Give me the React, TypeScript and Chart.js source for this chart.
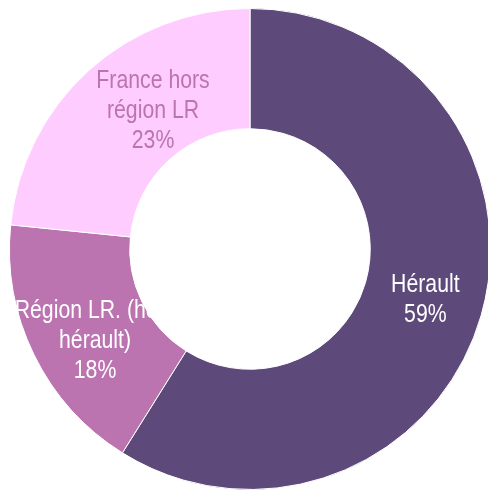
import React, { useEffect, useRef } from "react";
import { Chart, registerables } from "chart.js";

Chart.register(...registerables);

const categories = ["Hérault", "Région LR. (hors hérault)", "France hors région LR"];
const labelLines = [["Hérault"], ["Région LR. (hors", "hérault)"], ["France hors", "région LR"]];
const shares = [58.9, 17.7, 23.4];
const sliceColors = ["#5e4a7a", "#bb74b0", "#ffccff"];
const labelColors = ["#ffffff", "#ffffff", "#bb74b0"];
const labelNudges = [[2, 1], [7, 13], [24, -4]];

const labelPlugin = {
  id: "sliceLabels",
  afterDatasetsDraw(chart: any) {
    const ctx = chart.ctx;
    const meta = chart.getDatasetMeta(0);
    const total = shares.reduce((a, b) => a + b, 0);
    ctx.save();
    ctx.font = '25px "Liberation Sans", Arial, sans-serif';
    ctx.textAlign = "center";
    ctx.textBaseline = "middle";
    meta.data.forEach((arc: any, i: number) => {
      const p = arc.tooltipPosition();
      const pct = Math.round((shares[i] / total) * 100) + "%";
      const lines = [...labelLines[i], pct];
      const lh = 30;
      const cx = p.x + labelNudges[i][0];
      const cy = p.y + labelNudges[i][1];
      const startY = cy - ((lines.length - 1) * lh) / 2;
      ctx.fillStyle = labelColors[i];
      lines.forEach((ln, j) => {
        ctx.save();
        ctx.translate(cx, startY + j * lh);
        ctx.scale(0.85, 1);
        ctx.fillText(ln, 0, 0);
        ctx.restore();
      });
    });
    ctx.restore();
  },
};

export default function App() {
  const ref = useRef<HTMLCanvasElement | null>(null);
  useEffect(() => {
    const canvas = ref.current!;
    const chart = new Chart(canvas, {
      type: "doughnut",
      data: {
        labels: categories,
        datasets: [
          {
            data: shares,
            backgroundColor: sliceColors,
            borderColor: "#ffffff",
            borderWidth: 1,
          },
        ],
      },
      options: {
        responsive: false,
        animation: false,
        cutout: "50%",
        layout: { padding: 8 },
        plugins: { legend: { display: false }, tooltip: { enabled: false } },
      },
      plugins: [labelPlugin],
    });
    return () => chart.destroy();
  }, []);
  return (
    <div style={{ position: "fixed", left: 0, top: 0, width: 488, height: 490, overflow: "hidden", background: "#fff" }}>
      <canvas ref={ref} width={500} height={498} style={{ display: "block", width: 500, height: 498 }} />
    </div>
  );
}
